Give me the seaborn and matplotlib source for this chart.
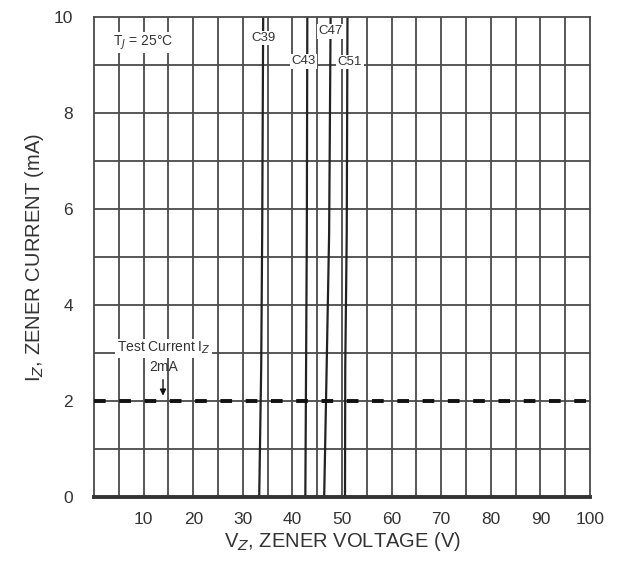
import seaborn as sns
import matplotlib.pyplot as plt
import pandas as pd
import numpy as np

# zener curves
devices = ['C39', 'C43', 'C47', 'C51']
current = [0, 2.7, 5.5, 10]
v_c39 = [33.3, 33.7, 33.9, 34.1]
v_c43 = [42.6, 42.75, 42.9, 43.0]
v_c47 = [46.4, 46.9, 47.4, 47.7]
v_c51 = [50.6, 50.65, 50.95, 51.1]

label_x = [34.2, 42.2, 47.6, 51.6]
label_y = [9.56, 9.08, 9.7, 9.06]

test_current = 2
x_ticks = [10, 20, 30, 40, 50, 60, 70, 80, 90, 100]
y_ticks = [0, 2, 4, 6, 8, 10]

rows = []
for name, vs in zip(devices, [v_c39, v_c43, v_c47, v_c51]):
    for v, i in zip(vs, current):
        rows.append({'device': name, 'V': v, 'I': i})
A = pd.DataFrame(rows)

sns.set_style('white')
plt.rcParams['font.family'] = ['Liberation Sans', 'DejaVu Sans']

fig = plt.figure(figsize=(6.23, 5.64), dpi=100)
ax = fig.add_axes([0.151, 0.119, 0.796, 0.851])

sns.lineplot(data=A, x='V', y='I', units='device', estimator=None, sort=False,
             color='#222222', lw=1.6, ax=ax)

ax.set_xlim(0, 100)
ax.set_ylim(0, 10)

# grid: every 5 V, every 1 mA
for gx in np.arange(5, 100, 5):
    ax.axvline(gx, color='#4a4a4a', lw=1.3, zorder=0)
for gy in np.arange(1, 10, 1):
    ax.axhline(gy, color='#4a4a4a', lw=1.3, zorder=0)

ax.axhline(test_current, color='#111111', lw=2.8, ls=(0, (3, 3.5)), zorder=3)

ax.set_xticks(x_ticks)
ax.set_yticks(y_ticks)
ax.tick_params(axis='both', length=0, labelsize=12.5, colors='#333333')
ax.tick_params(axis='y', pad=15)
ax.tick_params(axis='x', pad=11)

for s in ['left', 'top', 'right']:
    ax.spines[s].set_color('#4a4a4a')
    ax.spines[s].set_linewidth(1.3)
ax.spines['bottom'].set_color('#333333')
ax.spines['bottom'].set_linewidth(2.8)

ax.set_xlabel('V$_Z$, ZENER VOLTAGE (V)', fontsize=14.5, color='#333333', labelpad=2)
ax.set_ylabel('I$_Z$, ZENER CURRENT (mA)', fontsize=14.5, color='#333333', labelpad=6)

for name, lx, ly in zip(devices, label_x, label_y):
    ax.text(lx, ly, name, fontsize=9.5, ha='center', va='center', color='#333333',
            bbox=dict(facecolor='white', edgecolor='none', pad=1))

ax.text(3.8, 9.46, 'T$_J$ = 25°C', fontsize=10, ha='left', va='center', color='#333333',
        bbox=dict(facecolor='white', edgecolor='none', pad=1))

ax.text(14, 3.1, 'Test Current I$_Z$', fontsize=10, ha='center', va='center', color='#333333',
        bbox=dict(facecolor='white', edgecolor='none', pad=1))
ax.text(14, 2.7, '2mA', fontsize=10, ha='center', va='center', color='#333333')
ax.annotate('', xy=(13.9, 2.05), xytext=(13.9, 2.5),
            arrowprops=dict(arrowstyle='-|>', color='#111111', lw=1.0, mutation_scale=9))

plt.savefig('out.png', dpi=100)
